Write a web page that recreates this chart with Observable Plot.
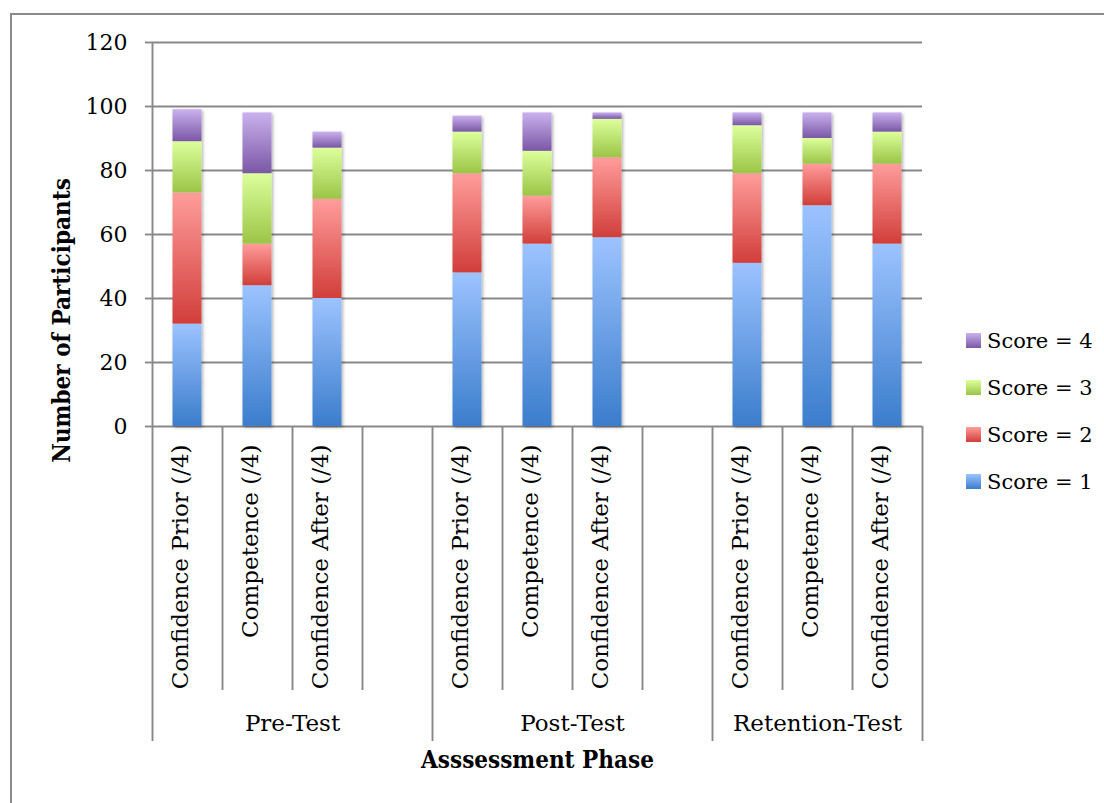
<!DOCTYPE html>
<html>
<head>
<meta charset="utf-8">
<script src="https://cdn.jsdelivr.net/npm/d3@7"></script>
<script src="https://cdn.jsdelivr.net/npm/@observablehq/plot@0.6"></script>
<style>
  body { margin: 0; background: #fff; }
  #wrap { position: relative; width: 1104px; height: 803px; overflow: hidden; font-family: "DejaVu Serif", serif; color: #000; }
  #frame { position: absolute; left: 10px; top: 13px; width: 1200px; height: 900px;
           border-left: 2px solid #8a8a8a; border-top: 2px solid #8a8a8a; box-sizing: border-box; }
  #chart { position: absolute; left: 0; top: 0; }
  #legend { position: absolute; left: 966px; top: 333px; }
  .item { position: absolute; left: 0; height: 15px; white-space: nowrap; }
  .swatch { position: absolute; left: 0; top: 0; width: 15px; height: 15px; }
  .label { position: absolute; left: 21px; top: 50%; transform: translateY(-50%); font-size: 21px; line-height: 1; }
</style>
</head>
<body>
<div id="wrap">
  <div id="frame"></div>
  <svg width="0" height="0" style="position:absolute">
    <defs id="paints"></defs>
  </svg>
  <div id="chart"></div>
  <div id="legend"></div>
</div>
<script>
// Participants per score level, for each phase × measure (measure order within each phase)
const phases = ["Pre-Test", "Post-Test", "Retention-Test"];
const measures = ["Confidence Prior (/4)", "Competence (/4)", "Confidence After (/4)"];
const scores = ["Score = 1", "Score = 2", "Score = 3", "Score = 4"];
const score1 = [32, 44, 40, 48, 57, 59, 51, 69, 57];
const score2 = [41, 13, 31, 31, 15, 25, 28, 13, 25];
const score3 = [16, 22, 16, 13, 14, 12, 15, 8, 10];
const score4 = [10, 19, 5, 5, 12, 2, 4, 8, 6];
const yTicks = [0, 20, 40, 60, 80, 100, 120];

// gradient stops (light top, dark bottom) per score
const scoreLight = ["#9cc3ff", "#ff9d9b", "#ddff9c", "#cab2ee"];
const scoreDark = ["#3b7dcc", "#d13e3a", "#9bc547", "#7a57a5"];

const series = [score1, score2, score3, score4];
const lineColor = "#888";
const textColor = "#000";

// Slot layout: each phase has its three measures followed by a blank slot, except the last phase
const slotsPerPhase = phases.map((p, i) => measures.length + (i < phases.length - 1 ? 1 : 0));
const phaseStart = slotsPerPhase.map((n, i) => d3.sum(slotsPerPhase.slice(0, i)));
const slotCount = d3.sum(slotsPerPhase);

const bars = [];
const columns = [];
phases.forEach((phase, i) => measures.forEach((measure, j) => {
  const k = i * measures.length + j;
  const slot = phaseStart[i] + j;
  columns.push({phase, measure, slot});
  scores.forEach((score, s) => bars.push({phase, measure, score, slot, count: series[s][k]}));
}));
const phaseRows = phases.map((phase, i) => ({phase, start: phaseStart[i], span: slotsPerPhase[i]}));
const innerEdges = phases.flatMap((p, i) => d3.range(1, slotsPerPhase[i]).map(j => phaseStart[i] + j));
const groupEdges = [...phaseStart, slotCount];

// gradient paints
const defs = d3.select("#paints");
scores.forEach((s, i) => {
  const g = defs.append("linearGradient").attr("id", `fill-score-${i + 1}`)
    .attr("x1", 0).attr("y1", 0).attr("x2", 0).attr("y2", 1);
  g.append("stop").attr("offset", "0%").attr("stop-color", scoreLight[i]);
  g.append("stop").attr("offset", "100%").attr("stop-color", scoreDark[i]);
});
const shadow = defs.append("filter").attr("id", "bar-shadow")
  .attr("x", "-20%").attr("y", "-5%").attr("width", "150%").attr("height", "115%");
shadow.append("feDropShadow").attr("dx", 1.5).attr("dy", 1.5).attr("stdDeviation", 1.8)
  .attr("flood-color", "#000").attr("flood-opacity", 0.3);

const titleFont = "'DejaVu Serif Condensed', 'DejaVu Serif', serif";

const chart = Plot.plot({
  width: 1104,
  height: 803,
  marginLeft: 152,
  marginRight: 182,
  marginTop: 42,
  marginBottom: 377,
  x: {domain: [0, slotCount], axis: null},
  y: {domain: [0, 120], axis: null, label: null},
  color: {domain: scores, range: scores.map((s, i) => `url(#fill-score-${i + 1})`)},
  style: {fontFamily: "'DejaVu Serif', serif", fontSize: "22px", color: textColor, background: "transparent", overflow: "visible"},
  marks: [
    Plot.ruleY(yTicks, {stroke: lineColor, strokeWidth: 1.9}),
    Plot.axisY(yTicks, {tickSize: 7, tickPadding: 18, stroke: lineColor, strokeWidth: 1.9, fill: textColor,
                        fontSize: 22, label: null}),
    Plot.ruleX([0], {stroke: lineColor, strokeWidth: 1.9}),
    Plot.rectY(bars, {x: "slot", interval: 1, y: "count", fill: "score",
                      insetLeft: 20.5, insetRight: 20.5}),
    // category separators under the axis
    Plot.ruleX(innerEdges, {insetTop: 384, insetBottom: -264, stroke: lineColor, strokeWidth: 1.9}),
    Plot.ruleX(groupEdges, {insetTop: 384, insetBottom: -315, stroke: lineColor, strokeWidth: 1.9}),
    Plot.text(columns, {x: d => d.slot + 0.5, text: "measure", frameAnchor: "bottom", dy: 18,
                        rotate: -90, textAnchor: "end", fontSize: 23, fill: textColor}),
    Plot.text(phaseRows, {x: d => d.start + d.span / 2, text: "phase", frameAnchor: "bottom", dy: 304,
                          fontSize: 23, fill: textColor}),
    Plot.text(["Asssessment Phase"], {text: d => d, frameAnchor: "bottom", dy: 341, fontSize: 24,
                                      fontWeight: "bold", fill: textColor, fontFamily: titleFont}),
    Plot.text(["Number of Participants"], {text: d => d, frameAnchor: "left", dx: -90, dy: 86, rotate: -90,
                                           textAnchor: "middle", fontSize: 24, fontWeight: "bold",
                                           fill: textColor, fontFamily: titleFont})
  ]
});
d3.select(chart).selectAll("g[aria-label='rect']").attr("filter", "url(#bar-shadow)");
document.getElementById("chart").appendChild(chart);

// legend, highest score first
const legend = d3.select("#legend");
scores.slice().reverse().forEach((s, k) => {
  const i = scores.indexOf(s);
  const item = legend.append("div").attr("class", "item").style("top", `${k * 47}px`);
  item.append("div").attr("class", "swatch")
    .style("background", `linear-gradient(${scoreLight[i]}, ${scoreDark[i]})`);
  item.append("div").attr("class", "label").text(s);
});
</script>
</body>
</html>
